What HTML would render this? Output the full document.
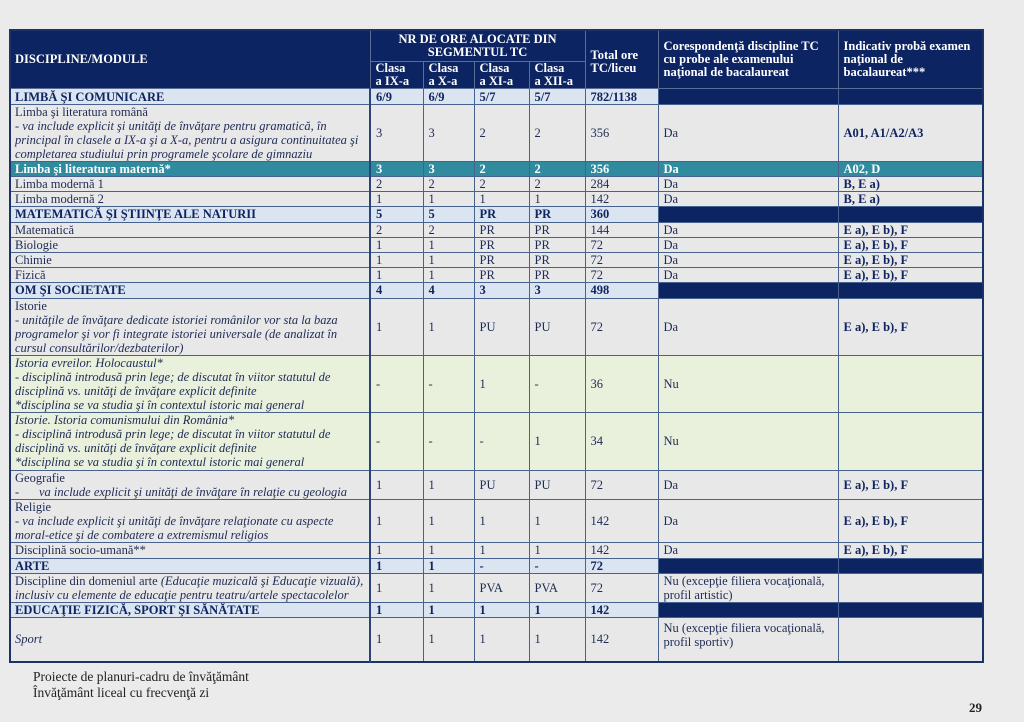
<!DOCTYPE html>
<html><head><meta charset="utf-8">
<style>
html,body{margin:0;padding:0;}
body{width:1024px;height:722px;background:#ebebeb;position:relative;overflow:hidden;font-family:"Liberation Serif",serif;}
table{position:absolute;left:9px;top:29px;width:973px;border-collapse:collapse;table-layout:fixed;font-size:12.5px;line-height:14px;color:#1e2b55;border:2px solid #1b3367;}
td{border:1px solid #47628f;padding:0 2px 0 5px;vertical-align:middle;background:#e8e8e8;white-space:nowrap;overflow:hidden;}
tr.h td{background:#0d2462;color:#fff;font-weight:bold;border-color:#5b6e96;line-height:13px;}
tr.cat td{background:#dbe5f1;font-weight:bold;color:#0f2460;}
tr.cat td.dk{background:#0d2462;}
tr.teal td{background:#2f8b9d;color:#fff;font-weight:bold;}
tr.grn td{background:#e9f0dc;}
td.b{font-weight:bold;color:#0f2460;}
td.c1{border-right:2px solid #2a447a;padding-left:4px;}
.ft{position:absolute;font-size:13.5px;color:#222;left:33px;}
.pg{position:absolute;right:42px;top:700px;font-weight:bold;font-size:13px;color:#222;}
.dash{display:inline-block;width:24px;}
</style></head><body>
<table>
<colgroup><col style="width:360px"><col style="width:53px"><col style="width:51px"><col style="width:55px"><col style="width:56px"><col style="width:73px"><col style="width:180px"><col style="width:145px"></colgroup>
<tr class="h" style="height:31.5px">
<td rowspan="2" class="c1" style="border-right:1px solid #5b6e96">DISCIPLINE/MODULE</td>
<td colspan="4" style="text-align:center;padding:0">NR DE ORE ALOCATE DIN<br>SEGMENTUL TC</td>
<td rowspan="2" style="padding-top:4px">Total ore<br>TC/liceu</td>
<td rowspan="2">Corespondenţă discipline TC<br>cu probe ale examenului<br>naţional de bacalaureat</td>
<td rowspan="2">Indicativ probă examen<br>naţional de<br>bacalaureat***</td>
</tr>
<tr class="h" style="height:25.5px">
<td>Clasa<br>a IX-a</td><td>Clasa<br>a X-a</td><td>Clasa<br>a XI-a</td><td>Clasa<br>a XII-a</td>
</tr>
<tr class="cat" style="height:16px"><td class="c1">LIMBĂ ŞI COMUNICARE</td><td>6/9</td><td>6/9</td><td>5/7</td><td>5/7</td><td>782/1138</td><td class="dk"></td><td class="dk"></td></tr>
<tr style="height:57px"><td class="c1">Limba şi literatura română<br><i>- va include explicit şi unităţi de învăţare pentru gramatică, în<br>principal în clasele a IX-a şi a X-a, pentru a asigura continuitatea şi<br>completarea studiului prin programele şcolare de gimnaziu</i></td><td>3</td><td>3</td><td>2</td><td>2</td><td>356</td><td>Da</td><td class="b">A01, A1/A2/A3</td></tr>
<tr class="teal" style="height:15px"><td class="c1">Limba şi literatura maternă*</td><td>3</td><td>3</td><td>2</td><td>2</td><td>356</td><td>Da</td><td>A02, D</td></tr>
<tr style="height:15px"><td class="c1">Limba modernă 1</td><td>2</td><td>2</td><td>2</td><td>2</td><td>284</td><td>Da</td><td class="b">B, E a)</td></tr>
<tr style="height:15px"><td class="c1">Limba modernă 2</td><td>1</td><td>1</td><td>1</td><td>1</td><td>142</td><td>Da</td><td class="b">B, E a)</td></tr>
<tr class="cat" style="height:15.5px"><td class="c1">MATEMATICĂ ŞI ŞTIINŢE ALE NATURII</td><td>5</td><td>5</td><td>PR</td><td>PR</td><td>360</td><td class="dk"></td><td class="dk"></td></tr>
<tr style="height:15.5px"><td class="c1">Matematică</td><td>2</td><td>2</td><td>PR</td><td>PR</td><td>144</td><td>Da</td><td class="b">E a), E b), F</td></tr>
<tr style="height:15px"><td class="c1">Biologie</td><td>1</td><td>1</td><td>PR</td><td>PR</td><td>72</td><td>Da</td><td class="b">E a), E b), F</td></tr>
<tr style="height:15px"><td class="c1">Chimie</td><td>1</td><td>1</td><td>PR</td><td>PR</td><td>72</td><td>Da</td><td class="b">E a), E b), F</td></tr>
<tr style="height:15px"><td class="c1">Fizică</td><td>1</td><td>1</td><td>PR</td><td>PR</td><td>72</td><td>Da</td><td class="b">E a), E b), F</td></tr>
<tr class="cat" style="height:15.5px"><td class="c1">OM ŞI SOCIETATE</td><td>4</td><td>4</td><td>3</td><td>3</td><td>498</td><td class="dk"></td><td class="dk"></td></tr>
<tr style="height:57px"><td class="c1">Istorie<br><i>- unităţile de învăţare dedicate istoriei românilor vor sta la baza<br>programelor şi vor fi integrate istoriei universale (de analizat în<br>cursul consultărilor/dezbaterilor)</i></td><td>1</td><td>1</td><td>PU</td><td>PU</td><td>72</td><td>Da</td><td class="b">E a), E b), F</td></tr>
<tr class="grn" style="height:57.5px"><td class="c1"><i>Istoria evreilor. Holocaustul*<br>- disciplină introdusă prin lege; de discutat în viitor statutul de<br>disciplină vs. unităţi de învăţare explicit definite<br>*disciplina se va studia şi în contextul istoric mai general</i></td><td>-</td><td>-</td><td>1</td><td>-</td><td>36</td><td>Nu</td><td></td></tr>
<tr class="grn" style="height:57.5px"><td class="c1"><i>Istorie. Istoria comunismului din România*<br>- disciplină introdusă prin lege; de discutat în viitor statutul de<br>disciplină vs. unităţi de învăţare explicit definite<br>*disciplina se va studia şi în contextul istoric mai general</i></td><td>-</td><td>-</td><td>-</td><td>1</td><td>34</td><td>Nu</td><td></td></tr>
<tr style="height:29px"><td class="c1">Geografie<br><span class="dash">-</span><i>va include explicit şi unităţi de învăţare în relaţie cu geologia</i></td><td>1</td><td>1</td><td>PU</td><td>PU</td><td>72</td><td>Da</td><td class="b">E a), E b), F</td></tr>
<tr style="height:43.5px"><td class="c1">Religie<br><i>- va include explicit şi unităţi de învăţare relaţionate cu aspecte<br>moral-etice şi de combatere a extremismul religios</i></td><td>1</td><td>1</td><td>1</td><td>1</td><td>142</td><td>Da</td><td class="b">E a), E b), F</td></tr>
<tr style="height:15.5px"><td class="c1">Disciplină socio-umană**</td><td>1</td><td>1</td><td>1</td><td>1</td><td>142</td><td>Da</td><td class="b">E a), E b), F</td></tr>
<tr class="cat" style="height:15px"><td class="c1">ARTE</td><td>1</td><td>1</td><td>-</td><td>-</td><td>72</td><td class="dk"></td><td class="dk"></td></tr>
<tr style="height:29.5px"><td class="c1">Discipline din domeniul arte <i>(Educaţie muzicală şi Educaţie vizuală),<br>inclusiv cu elemente de educaţie pentru teatru/artele spectacolelor</i></td><td>1</td><td>1</td><td>PVA</td><td>PVA</td><td>72</td><td>Nu (excepţie filiera vocaţională,<br>profil artistic)</td><td></td></tr>
<tr class="cat" style="height:15px"><td class="c1">EDUCAŢIE FIZICĂ, SPORT ŞI SĂNĂTATE</td><td>1</td><td>1</td><td>1</td><td>1</td><td>142</td><td class="dk"></td><td class="dk"></td></tr>
<tr style="height:44px"><td class="c1"><i>Sport</i></td><td>1</td><td>1</td><td>1</td><td>1</td><td>142</td><td style="vertical-align:top;padding-top:3px">Nu (excepţie filiera vocaţională,<br>profil sportiv)</td><td></td></tr>
</table>
<div class="ft" style="top:669px">Proiecte de planuri-cadru de învăţământ</div>
<div class="ft" style="top:685px">Învăţământ liceal cu frecvenţă zi</div>
<div class="pg">29</div>
</body></html>
